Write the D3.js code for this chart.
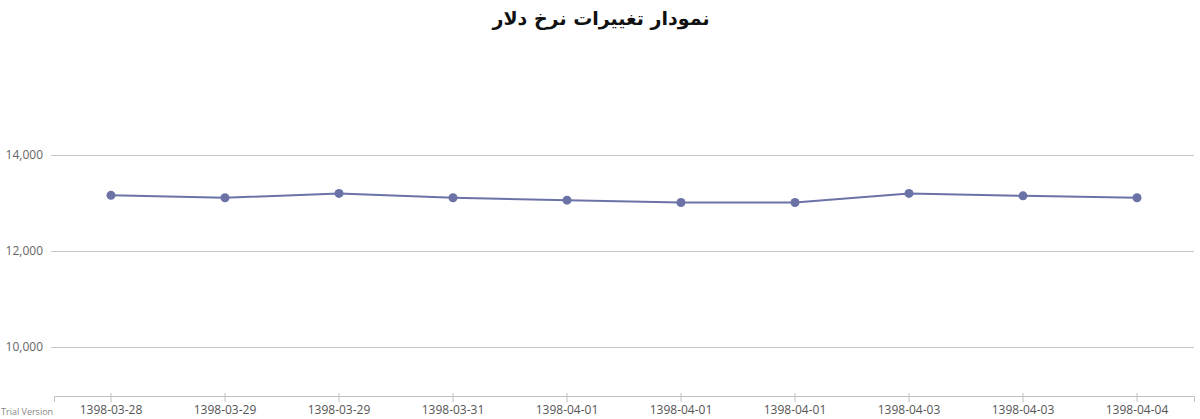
<!DOCTYPE html>
<html>
<head>
<meta charset="utf-8">
<script src="https://cdn.jsdelivr.net/npm/d3@7"></script>
<style>
  body { margin: 0; background: #fff; }
  svg { display: block; }
</style>
</head>
<body>
<div id="chart"></div>
<script>
// chart data
const title = "نمودار تغییرات نرخ دلار";
const dates = ["1398-03-28", "1398-03-29", "1398-03-29", "1398-03-31", "1398-04-01",
               "1398-04-01", "1398-04-01", "1398-04-03", "1398-04-03", "1398-04-04"];
const rates = [13160, 13110, 13200, 13110, 13060, 13010, 13010, 13200, 13150, 13110];
const yTicks = [10000, 12000, 14000];
const yDomain = [8980, 15000];

function add_svg(wrapper)
{
  let svg = d3.select(wrapper).append("svg");
  return svg.attr("width", 1200).attr("height", 419);
}

function draw_chart(wrapper)
{
  let svg = add_svg(wrapper);

  // x positions use the index so repeated dates keep their own slot
  let scalex = d3.scaleBand()
    .domain(d3.range(dates.length))
    .range([54, 1194]);

  let scaley = d3.scaleLinear()
    .domain(yDomain)
    .range([396, 107]);

  // grid + y labels
  let y_axis = d3.axisLeft(scaley)
    .tickValues(yTicks)
    .tickFormat(d3.format(","))
    .tickSize(-1143)
    .tickPadding(8);

  let gy = svg.append("g")
    .attr("class", "y_axis")
    .attr("transform", "translate(51, 0)")
    .call(y_axis);
  gy.select(".domain").remove();
  gy.selectAll("line").attr("stroke", "#c8c8c8");
  gy.selectAll("text")
    .attr("fill", "#666")
    .style("font-family", "'Open Sans', sans-serif")
    .style("font-size", "12px");

  // x axis
  let x_axis = d3.axisBottom(scalex)
    .tickFormat(i => dates[i])
    .tickSizeOuter(0)
    .tickSize(6)
    .tickPadding(3);

  let gx = svg.append("g")
    .attr("class", "x_axis")
    .attr("transform", "translate(0, 396)")
    .call(x_axis);
  gx.select(".domain").attr("stroke", "#c0c0c0");
  gx.selectAll("line").attr("stroke", "#c0c0c0").attr("y1", -3);
  gx.selectAll("text")
    .attr("fill", "#555")
    .style("font-family", "'Open Sans', sans-serif")
    .style("font-size", "12px");

  let cx = i => scalex(i) + scalex.bandwidth() / 2;

  let line = d3.line()
    .x((d, i) => cx(i))
    .y(d => scaley(d));

  svg.append("path")
    .attr("d", line(rates))
    .attr("fill", "none")
    .attr("stroke", "#6b73a6")
    .attr("stroke-width", 2);

  svg.selectAll(".dot")
    .data(rates)
    .enter()
    .append("circle")
    .attr("class", "dot")
    .attr("cx", (d, i) => cx(i))
    .attr("cy", d => scaley(d))
    .attr("r", 4.5)
    .attr("fill", "#6b73a6");

  svg.append("text")
    .attr("x", 601)
    .attr("y", 25)
    .attr("text-anchor", "middle")
    .attr("direction", "rtl")
    .style("font-family", "'DejaVu Sans', sans-serif")
    .style("font-weight", "bold")
    .style("font-size", "19px")
    .attr("fill", "#111")
    .text(title);

  svg.append("text")
    .attr("x", 1)
    .attr("y", 415)
    .style("font-family", "'Open Sans', sans-serif")
    .style("font-size", "9px")
    .attr("fill", "#888")
    .text("Trial Version");
}

draw_chart("#chart");
</script>
</body>
</html>
